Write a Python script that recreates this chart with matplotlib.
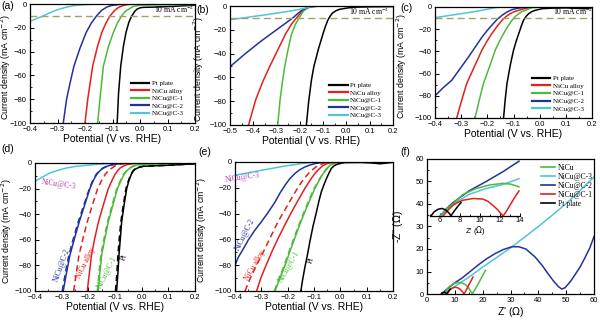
import matplotlib
matplotlib.use("Agg")
import matplotlib.pyplot as plt
from matplotlib.ticker import MultipleLocator

# ---------------- data ----------------
LEG_LABELS = ["Pt plate", "NiCu alloy", "NiCu@C-1", "NiCu@C-2", "NiCu@C-3"]

# panel (a)
A_PT = [(-0.083, -100), (-0.078, -75), (-0.070, -52), (-0.060, -35), (-0.051, -24), (-0.040, -15), (-0.030, -10),
        (-0.020, -6.5), (-0.012, -4.5), (0.0, -3.2), (0.012, -2.8), (0.05, -2.6), (0.1, -2.2), (0.15, -1.6), (0.2, -1.0)]
A_ALLOY = [(-0.200, -100), (-0.190, -80), (-0.172, -52), (-0.155, -36), (-0.139, -24), (-0.124, -16), (-0.109, -10),
           (-0.094, -5.8), (-0.079, -3), (-0.064, -1.5), (-0.048, -0.5), (-0.02, -0.1), (0.2, 0)]
A_C1 = [(-0.154, -100), (-0.144, -76), (-0.133, -52), (-0.115, -36), (-0.097, -24), (-0.082, -16), (-0.067, -10),
        (-0.055, -6.5), (-0.042, -4.5), (-0.024, -2.0), (0.0, -1.0), (0.05, -0.7), (0.2, -0.4)]
A_C2 = [(-0.279, -100), (-0.267, -80), (-0.254, -66), (-0.240, -52), (-0.218, -37), (-0.196, -24), (-0.177, -16),
        (-0.158, -10), (-0.139, -5.2), (-0.120, -2.5), (-0.103, -1.2), (-0.07, -0.3), (-0.03, 0), (0.2, 0)]
A_C3 = [(-0.400, -14.6), (-0.375, -12.2), (-0.352, -10), (-0.330, -7.6), (-0.303, -5.0), (-0.270, -2.8),
        (-0.242, -1.4), (-0.200, -0.5), (-0.170, -0.1), (-0.12, 0), (0.2, 0)]

# panel (b)
B_PT = [(-0.172, -100), (-0.162, -80), (-0.150, -62), (-0.140, -51), (-0.120, -36), (-0.100, -23), (-0.090, -17),
        (-0.080, -12), (-0.070, -8.5), (-0.060, -6), (-0.045, -4), (-0.030, -2.8), (0.0, -1.8), (0.03, -1.0),
        (0.1, -0.7), (0.2, -0.5)]
B_ALLOY = [(-0.420, -100), (-0.390, -79), (-0.360, -64), (-0.330, -51), (-0.295, -37), (-0.260, -23),
           (-0.235, -15), (-0.210, -9), (-0.195, -5.5), (-0.180, -3), (-0.165, -1.4), (-0.150, -0.5),
           (-0.12, -0.1), (0.2, 0)]
B_C1 = [(-0.295, -100), (-0.285, -79), (-0.275, -64), (-0.265, -51), (-0.250, -36), (-0.235, -23), (-0.218, -15),
        (-0.200, -9), (-0.190, -5.8), (-0.180, -3.4), (-0.165, -1.6), (-0.150, -0.5), (-0.12, -0.1), (0.2, 0)]
B_C2 = [(-0.500, -51), (-0.470, -46), (-0.440, -41), (-0.405, -35.5), (-0.370, -30), (-0.335, -25), (-0.300, -20),
        (-0.265, -15), (-0.230, -10), (-0.210, -6.5), (-0.190, -3.4), (-0.170, -1.5), (-0.150, -0.5), (-0.12, -0.1),
        (0.2, 0)]
B_C3 = [(-0.500, -11.5), (-0.450, -10.2), (-0.400, -8.8), (-0.350, -7.5), (-0.300, -6.0), (-0.250, -4.5),
        (-0.200, -2.8), (-0.170, -1.5), (-0.150, -0.5), (-0.12, 0), (0.2, 0)]

# panel (c)
C_PT = [(-0.138, -100), (-0.132, -84), (-0.125, -69), (-0.112, -52), (-0.100, -39), (-0.090, -31), (-0.080, -24),
        (-0.070, -17), (-0.062, -12), (-0.052, -8.5), (-0.042, -6), (-0.030, -4.2), (-0.017, -3), (0.01, -1.5),
        (0.05, -1.0), (0.1, -0.8), (0.14, -1.2), (0.17, -1.6), (0.2, -0.6)]
C_ALLOY = [(-0.317, -100), (-0.298, -84), (-0.279, -69), (-0.250, -54), (-0.221, -39), (-0.202, -31),
           (-0.183, -24), (-0.163, -17.5), (-0.144, -12), (-0.128, -8.5), (-0.113, -6), (-0.097, -4.2),
           (-0.080, -3), (-0.060, -1.6), (-0.042, -0.6), (-0.02, -0.1), (0.2, 0)]
C_C1 = [(-0.247, -100), (-0.231, -84), (-0.215, -69), (-0.192, -54), (-0.170, -39), (-0.154, -31), (-0.138, -24),
        (-0.122, -17.5), (-0.106, -12), (-0.093, -8.5), (-0.080, -6), (-0.068, -4.2), (-0.055, -3), (-0.040, -1.6),
        (-0.030, -0.6), (0.0, -0.2), (0.2, 0)]
C_C2 = [(-0.400, -80), (-0.370, -73), (-0.336, -66), (-0.304, -55.5), (-0.272, -45), (-0.246, -36), (-0.220, -27),
        (-0.200, -21), (-0.183, -16.5), (-0.164, -11.5), (-0.144, -7.5), (-0.125, -4.5), (-0.106, -2.4),
        (-0.088, -1.3), (-0.068, -0.6), (-0.04, -0.1), (0.2, 0)]
C_C3 = [(-0.400, -9.6), (-0.350, -7.8), (-0.300, -6.0), (-0.250, -4.2), (-0.210, -2.5), (-0.170, -0.6),
        (-0.150, -0.1), (-0.12, 0), (0.2, 0)]

# panel (d): solid and dashed
D_C3 = [(-0.400, -14.4), (-0.372, -11), (-0.344, -7.8), (-0.312, -5.6), (-0.281, -3.9), (-0.244, -2.6),
        (-0.206, -1.8), (-0.160, -1.0), (-0.119, -0.5), (-0.08, -0.1), (0.2, 0)]
D_C2 = [(-0.294, -100), (-0.282, -86), (-0.269, -72), (-0.252, -59), (-0.234, -46), (-0.214, -33), (-0.194, -20),
        (-0.182, -14), (-0.169, -9), (-0.156, -6), (-0.144, -4), (-0.125, -2.2), (-0.106, -1.3), (-0.08, -0.5),
        (-0.05, -0.1), (0.2, 0)]
D_C2_DASH = [(-0.298, -100), (-0.286, -86), (-0.273, -72), (-0.256, -59), (-0.238, -46), (-0.217, -33),
             (-0.196, -20), (-0.184, -14), (-0.171, -9), (-0.158, -6), (-0.146, -4), (-0.127, -2.2),
             (-0.108, -1.3), (-0.08, -0.5), (-0.05, -0.1), (0.2, 0)]
D_ALLOY_DASH = [(-0.255, -100), (-0.245, -86), (-0.235, -72), (-0.220, -59), (-0.204, -46), (-0.185, -33),
                (-0.165, -20), (-0.151, -14), (-0.137, -9), (-0.125, -6), (-0.112, -4), (-0.100, -2.4),
                (-0.088, -1.3), (-0.070, -0.5), (-0.05, -0.1), (0.2, 0)]
D_ALLOY = [(-0.204, -100), (-0.196, -86), (-0.188, -72), (-0.176, -59), (-0.162, -46), (-0.144, -33),
           (-0.125, -20), (-0.112, -14), (-0.100, -9), (-0.090, -6), (-0.081, -4), (-0.068, -2.4),
           (-0.056, -1.3), (-0.031, -0.5), (0.0, -0.1), (0.2, 0)]
D_C1 = [(-0.163, -100), (-0.157, -86), (-0.150, -72), (-0.138, -59), (-0.125, -46), (-0.108, -33), (-0.091, -20),
        (-0.078, -14), (-0.066, -9), (-0.055, -6), (-0.044, -4), (-0.030, -2.4), (-0.019, -1.6), (0.006, -1.0),
        (0.1, -0.6), (0.2, -0.3)]
D_C1_DASH = [(-0.166, -100), (-0.160, -86), (-0.153, -72), (-0.141, -59), (-0.128, -46), (-0.111, -33),
             (-0.093, -20), (-0.080, -14), (-0.068, -9), (-0.057, -6), (-0.046, -4), (-0.032, -2.4),
             (-0.020, -1.6), (0.006, -1.0), (0.1, -0.6), (0.2, -0.3)]
D_PT = [(-0.094, -100), (-0.089, -86), (-0.085, -72), (-0.080, -59), (-0.075, -46), (-0.066, -33), (-0.056, -20),
        (-0.048, -14), (-0.039, -9), (-0.032, -6.5), (-0.025, -5), (-0.010, -3.4), (0.006, -2.6), (0.05, -2.2),
        (0.1, -1.8), (0.15, -1.2), (0.2, -0.6)]
D_PT_DASH = [(-0.098, -100), (-0.093, -86), (-0.089, -72), (-0.084, -59), (-0.078, -46), (-0.069, -33),
             (-0.059, -20), (-0.050, -14), (-0.041, -9), (-0.034, -6.5), (-0.027, -5), (-0.012, -3.4),
             (0.006, -2.6), (0.05, -2.2), (0.1, -1.8), (0.15, -1.2), (0.2, -0.6)]

# panel (e)
E_C3 = [(-0.400, -10.3), (-0.350, -8.4), (-0.299, -6.4), (-0.250, -4.6), (-0.210, -3.1), (-0.173, -2.0),
        (-0.140, -1.1), (-0.110, -0.5), (-0.08, -0.1), (0.2, 0)]
E_C2 = [(-0.400, -80), (-0.388, -74), (-0.375, -69.6), (-0.362, -65), (-0.350, -60.6), (-0.325, -53),
        (-0.300, -46.4), (-0.274, -39), (-0.248, -31), (-0.229, -24), (-0.210, -18), (-0.192, -13),
        (-0.173, -9), (-0.154, -6), (-0.135, -3.9), (-0.116, -2.4), (-0.097, -1.3), (-0.072, -0.5),
        (-0.04, -0.1), (0.2, 0)]
E_ALLOY_DASH = [(-0.362, -100), (-0.346, -92), (-0.330, -85), (-0.308, -76), (-0.286, -67), (-0.261, -56.5),
                (-0.236, -46), (-0.210, -37), (-0.185, -28), (-0.166, -21.5), (-0.147, -15.5),
                (-0.131, -11.3), (-0.116, -7.7), (-0.100, -5), (-0.084, -2.6), (-0.065, -1.2), (-0.05, -0.4),
                (-0.02, -0.1), (0.2, 0)]
E_ALLOY = [(-0.318, -100), (-0.302, -90), (-0.286, -82), (-0.261, -70), (-0.236, -59), (-0.210, -48.5),
           (-0.185, -38.7), (-0.160, -29.5), (-0.135, -20.6), (-0.116, -14.5), (-0.097, -9), (-0.081, -5.5),
           (-0.065, -2.6), (-0.050, -1.3), (-0.034, -0.5), (0.0, -0.1), (0.2, 0)]
E_C1 = [(-0.248, -100), (-0.229, -90), (-0.210, -80), (-0.192, -69.5), (-0.173, -59), (-0.154, -48.5),
        (-0.135, -38.7), (-0.116, -29.5), (-0.097, -20.6), (-0.081, -14.5), (-0.065, -9), (-0.052, -5.5),
        (-0.040, -2.6), (-0.024, -1.3), (-0.008, -0.5), (0.02, -0.1), (0.2, 0)]
E_C1_DASH = [(-0.251, -100), (-0.232, -90), (-0.213, -80), (-0.195, -69.5), (-0.176, -59), (-0.157, -48.5),
             (-0.138, -38.7), (-0.119, -29.5), (-0.100, -20.6), (-0.083, -14.5), (-0.067, -9), (-0.054, -5.5),
             (-0.041, -2.6), (-0.025, -1.3), (-0.008, -0.5), (0.02, -0.1), (0.2, 0)]
E_PT = [(-0.150, -100), (-0.143, -91), (-0.135, -82), (-0.125, -72), (-0.116, -62), (-0.104, -50), (-0.091, -39),
        (-0.081, -30), (-0.072, -23), (-0.062, -17.5), (-0.053, -13), (-0.043, -8.5), (-0.034, -5),
        (-0.025, -3.2), (-0.015, -2.0), (0.0, -1.2), (0.017, -0.5), (0.08, -0.4), (0.12, -0.8), (0.15, -1.4),
        (0.17, -1.0), (0.2, -0.3)]

# panel (f) main Nyquist
F_C3 = [(6.0, 0), (7.0, 1.0), (9.0, 2.6), (12.0, 5.0), (16.0, 8.3), (20.0, 12.0), (25.0, 16.2), (30.0, 20.5),
        (35.0, 25.2), (40.0, 30.0), (45.0, 35.0), (50.0, 40.2), (55.0, 46.0), (60.0, 52.0)]
F_C2 = [(5.5, 0), (6.5, 1.5), (8.0, 3.0), (10.0, 5.0), (12.5, 7.0), (15.5, 10.0), (18.5, 13.0), (21.5, 15.7),
        (24.5, 18.0), (27.5, 19.8), (30.5, 21.0), (33.0, 21.0), (35.5, 20.0), (38.8, 16.5), (41.5, 12.5),
        (43.6, 8.8), (45.5, 5.7), (47.2, 3.3), (48.4, 2.2), (49.6, 2.8), (51.5, 5.5), (53.2, 8.6), (55.0, 12.0),
        (56.7, 16.0), (58.5, 20.5), (60.0, 25.5)]
F_NICU = [(6.3, 0), (7.0, 1.8), (8.0, 3.3), (9.5, 4.6), (11.0, 5.1), (12.5, 5.0), (14.0, 4.0), (15.0, 2.6),
          (15.8, 1.0), (16.3, 0.2), (17.0, 1.5), (18.5, 4.8), (20.0, 8.2), (21.0, 10.5)]
F_C1 = [(7.3, 0), (8.0, 1.6), (9.0, 2.6), (10.0, 3.0), (11.0, 2.8), (12.0, 2.0), (12.8, 0.9), (13.3, 0.1),
        (14.0, 1.5), (15.0, 4.0), (16.0, 6.3), (16.5, 7.5)]
F_PT = [(5.1, 0), (5.5, 0.6), (6.1, 0.8), (6.7, 0.5), (7.1, 0.05), (7.6, 1.0), (8.3, 2.2)]

# panel (f) inset
I_PT = [(5.1, 0), (5.4, 0.7), (5.8, 1.15), (6.2, 1.3), (6.6, 1.0), (6.9, 0.5), (7.1, 0.05), (7.4, 0.8),
        (7.8, 1.7), (8.1, 2.3)]
I_C1 = [(6.3, 0), (6.8, 1.0), (7.3, 1.85), (7.8, 2.35), (8.3, 2.7), (9.3, 3.0), (10.3, 2.9), (10.8, 2.5),
        (11.1, 2.1), (11.5, 1.5), (11.8, 1.0), (12.1, 0.4), (12.3, 0), (12.6, 0.7), (12.8, 1.3), (13.4, 3.0),
        (13.9, 4.3)]
I_NICU = [(6.1, 0), (6.7, 1.2), (7.3, 2.1), (8.3, 3.7), (9.6, 4.7), (10.9, 5.3), (12.3, 5.6), (13.1, 5.45),
          (13.9, 5.0)]
I_C3 = [(6.0, 0), (6.6, 1.1), (7.3, 2.0), (8.9, 3.7), (10.6, 4.7), (12.3, 5.4), (13.9, 6.4)]
I_C2 = [(6.0, 0), (6.6, 1.2), (7.3, 2.3), (8.9, 4.3), (10.6, 5.9), (12.3, 7.6), (13.9, 9.4)]
F_LEG_LABELS = ["NiCu", "NiCu@C-3", "NiCu@C-2", "NiCu@C-1", "Pt plate"]

# ---------------- style ----------------
BLACK = "#000000"
RED = "#e3201c"
GREEN = "#4cbb3a"
BLUE = "#23329a"
CYAN = "#52c3d9"
MAGENTA = "#b43cb4"
REFCOL = "#a5a064"
SANS = "Liberation Sans"
SERIF = "Liberation Serif"
LW = 1.1

plt.rcParams["font.family"] = SANS
plt.rcParams["xtick.direction"] = "in"
plt.rcParams["ytick.direction"] = "in"
plt.rcParams["axes.linewidth"] = 0.9

fig = plt.figure(figsize=(6.0, 3.21), dpi=100)


def xy(pts):
    return [p[0] for p in pts], [p[1] for p in pts]


def style_axes(ax, xlim, xmaj, ylim, ymaj, xlabel, ylabel, ylab_x):
    ax.set_xlim(*xlim)
    ax.set_ylim(*ylim)
    ax.xaxis.set_major_locator(MultipleLocator(xmaj))
    ax.xaxis.set_minor_locator(MultipleLocator(xmaj / 2))
    ax.yaxis.set_major_locator(MultipleLocator(ymaj))
    ax.yaxis.set_minor_locator(MultipleLocator(ymaj / 2))
    ax.tick_params(which="major", length=3, width=0.7, labelsize=5.5)
    ax.tick_params(axis="x", which="major", pad=2.2)
    ax.tick_params(axis="y", which="major", pad=2.2)
    ax.tick_params(which="minor", length=1.6, width=0.6)
    ax.set_xlabel(xlabel, fontsize=7.5, labelpad=0.5)
    ax.set_ylabel(ylabel, fontsize=6.3)
    ax.yaxis.set_label_coords(ylab_x, 0.47)


YLAB = "Current density (mA cm$^{-2}$)"
XLAB = "Potential (V vs. RHE)"


def lsv_panel(rect, curves, xlim, label_xy, txt_xy, letter, letter_xy, ylab_x):
    ax = fig.add_axes(rect)
    cols = [BLACK, RED, GREEN, BLUE, CYAN]
    handles = []
    for pts, c in zip(curves, cols):
        x, y = xy(pts)
        h, = ax.plot(x, y, color=c, lw=LW)
        handles.append(h)
    ax.axhline(-10, color=REFCOL, lw=1.0, ls=(0, (5, 3)))
    ax.text(txt_xy[0], txt_xy[1], "10 mA cm$^{-2}$", fontsize=5.5, family=SERIF, ha="center", va="bottom",
            math_fontfamily="stix")
    style_axes(ax, xlim, 0.1, (-100, 0), 20, XLAB, YLAB, ylab_x)
    leg = ax.legend(handles, LEG_LABELS, loc="lower right", bbox_to_anchor=label_xy, frameon=False,
                    prop={"family": SERIF, "size": 5}, handlelength=2.6, handletextpad=0.4, labelspacing=0.25,
                    borderaxespad=0.2)
    for l in leg.get_lines():
        l.set_linewidth(1.6)
    fig.text(letter_xy[0], letter_xy[1], letter, fontsize=7.5, va="center")
    return ax


lsv_panel([0.05, 0.6168, 0.275, 0.3707], [A_PT, A_ALLOY, A_C1, A_C2, A_C3], (-0.4, 0.2),
          (0.96, 0.02), (0.125, -9.3), "(a)", (0.002, 0.982), -0.1)
lsv_panel([0.3833, 0.6106, 0.2717, 0.3707], [B_PT, B_ALLOY, B_C1, B_C2, B_C3], (-0.5, 0.2),
          (0.96, 0.02), (0.1, -9.3), "(b)", (0.328, 0.968), -0.15)
lsv_panel([0.725, 0.6324, 0.2617, 0.3458], [C_PT, C_ALLOY, C_C1, C_C2, C_C3], (-0.4, 0.2),
          (0.98, 0.02), (0.13, -9.3), "(c)", (0.668, 0.975), -0.165)


def comp_panel(rect, solids, dashes, labels, letter, letter_xy, ylab_x):
    ax = fig.add_axes(rect)
    for pts, c in solids:
        x, y = xy(pts)
        ax.plot(x, y, color=c, lw=LW)
    for pts, c in dashes:
        x, y = xy(pts)
        ax.plot(x, y, color=c, lw=LW, ls=(0, (4, 2.5)))
    for (tx, ty, s, c, rot) in labels:
        ax.text(tx, ty, s, color=c, fontsize=5.5, family=SERIF, rotation=rot, ha="center", va="center",
                rotation_mode="anchor")
    style_axes(ax, (-0.4, 0.2), 0.1, (-100, 0), 20, XLAB, YLAB, ylab_x)
    fig.text(letter_xy[0], letter_xy[1], letter, fontsize=7.5, va="center")
    return ax


comp_panel([0.0583, 0.0935, 0.2667, 0.3988],
           [(D_C3, CYAN), (D_C2, BLUE), (D_ALLOY, RED), (D_C1, GREEN), (D_PT, BLACK)],
           [(D_C2_DASH, BLUE), (D_ALLOY_DASH, RED), (D_C1_DASH, GREEN), (D_PT_DASH, BLACK)],
           [(-0.31, -17, "NiCu@C-3", MAGENTA, -8), (-0.30, -80, "NiCu@C-2", BLUE, 70),
            (-0.21, -78, "NiCu alloy", RED, 64), (-0.128, -86, "NiCu@C-1", GREEN, 63),
            (-0.068, -74, "Pt", BLACK, 70)],
           "(d)", (0.003, 0.537), -0.13)

comp_panel([0.3917, 0.0935, 0.2633, 0.4019],
           [(E_C3, CYAN), (E_C2, BLUE), (E_ALLOY, RED), (E_C1, GREEN), (E_PT, BLACK)],
           [(E_ALLOY_DASH, RED), (E_C1_DASH, GREEN)],
           [(-0.37, -12.5, "NiCu@C-3", MAGENTA, 8), (-0.36, -56, "NiCu@C-2", BLUE, 63),
            (-0.325, -80, "NiCu alloy", RED, 60), (-0.195, -81, "NiCu@C-1", GREEN, 60),
            (-0.11, -76, "Pt", BLACK, 70)],
           "(e)", (0.33, 0.528), -0.165)

# ---------------- panel (f) ----------------
axf = fig.add_axes([0.7117, 0.0841, 0.2783, 0.4206])
for pts, c in [(F_C3, CYAN), (F_C2, BLUE), (F_NICU, GREEN), (F_C1, RED), (F_PT, BLACK)]:
    x, y = xy(pts)
    axf.plot(x, y, color=c, lw=LW)
axf.set_xlim(0, 60)
axf.set_ylim(0, 60)
axf.xaxis.set_major_locator(MultipleLocator(10))
axf.xaxis.set_minor_locator(MultipleLocator(5))
axf.yaxis.set_major_locator(MultipleLocator(10))
axf.yaxis.set_minor_locator(MultipleLocator(5))
axf.tick_params(which="major", length=3, width=0.7, labelsize=5.5, pad=2.2)
axf.tick_params(which="minor", length=1.6, width=0.6)
axf.set_xlabel("Z' ($\\Omega$)", fontsize=7.5, labelpad=0.5)
axf.set_ylabel("-Z'' ($\\Omega$)", fontsize=7.5)
axf.yaxis.set_label_coords(-0.13, 0.5)
fh = []
for c in [GREEN, CYAN, BLUE, RED, BLACK]:
    h, = axf.plot([], [], color=c, lw=1.2)
    fh.append(h)
axf.legend(fh, F_LEG_LABELS, loc="upper right", bbox_to_anchor=(1.02, 1.0), frameon=False,
           prop={"family": SERIF, "size": 5.5}, handlelength=1.8, handletextpad=0.4, labelspacing=0.15,
           borderaxespad=0.2)
fig.text(0.667, 0.528, "(f)", fontsize=7.5, va="center")

axi = fig.add_axes([0.7167, 0.3271, 0.15, 0.1745])
axi.patch.set_alpha(0)
for pts, c in [(I_C2, BLUE), (I_C3, CYAN), (I_NICU, GREEN), (I_C1, RED), (I_PT, BLACK)]:
    x, y = xy(pts)
    axi.plot(x, y, color=c, lw=LW)
axi.set_xlim(5, 14)
axi.set_ylim(0, 9.6)
for s in ["top", "right", "left"]:
    axi.spines[s].set_visible(False)
axi.set_yticks([])
axi.xaxis.set_major_locator(MultipleLocator(2))
axi.xaxis.set_minor_locator(MultipleLocator(1))
axi.tick_params(which="major", length=2.5, width=0.7, labelsize=5.5, pad=1)
axi.tick_params(which="minor", length=1.4, width=0.6)
axi.set_xlabel("Z' ($\\Omega$)", fontsize=5.5, labelpad=0)

fig.savefig("out.png", dpi=100)
